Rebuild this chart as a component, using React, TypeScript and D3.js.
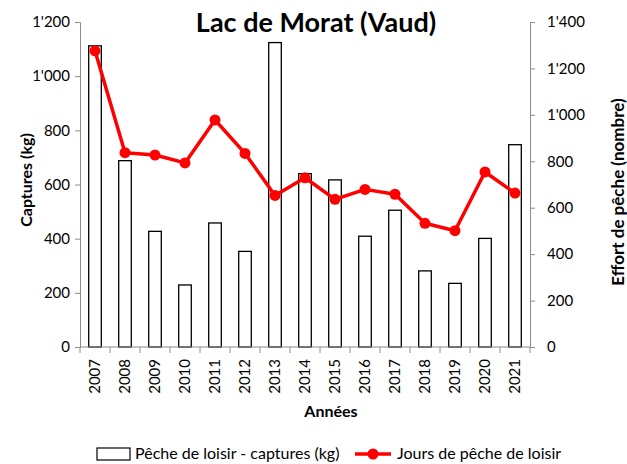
import React, { useRef, useEffect } from "react";
import * as d3 from "d3";

const years = ["2007", "2008", "2009", "2010", "2011", "2012", "2013", "2014", "2015", "2016", "2017", "2018", "2019", "2020", "2021"];
const captures = [1112, 688, 427, 229, 458, 353, 1124, 640, 617, 409, 505, 281, 235, 401, 747];
const jours = [1276, 837, 827, 793, 978, 834, 653, 729, 636, 679, 658, 533, 501, 754, 663];
const leftTicks = [0, 200, 400, 600, 800, 1000, 1200];
const rightTicks = [0, 200, 400, 600, 800, 1000, 1200, 1400];

const FONT = "Lato, 'Open Sans', sans-serif";
const fmt = (v: number) => (v >= 1000 ? Math.floor(v / 1000) + "'" + d3.format("03d")(v % 1000) : String(v));

const App = () => {
  const svgRef = useRef<SVGSVGElement>(null);

  useEffect(() => {
    const svg = d3.select(svgRef.current);
    svg.selectAll("*").remove();

    const left = 80, right = 530, top = 22, bottom = 347;

    const x = d3.scaleBand().domain(years).range([left, right]).paddingInner(0.58).paddingOuter(0.29);
    const band = d3.scaleBand().domain(years).range([left, right]);
    const yL = d3.scaleLinear().domain([0, 1200]).range([bottom, top]);
    const yR = d3.scaleLinear().domain([0, 1400]).range([bottom, top]);

    // title
    svg.append("text")
      .attr("x", 316).attr("y", 32)
      .attr("text-anchor", "middle")
      .style("font-family", FONT).style("font-weight", "bold").style("font-size", "27px")
      .text("Lac de Morat (Vaud)");

    // bars
    svg.append("g").selectAll("rect")
      .data(years)
      .join("rect")
      .attr("x", (d) => x(d)!)
      .attr("y", (d, i) => yL(captures[i]))
      .attr("width", x.bandwidth())
      .attr("height", (d, i) => bottom - yL(captures[i]))
      .attr("fill", "white")
      .attr("stroke", "black")
      .attr("stroke-width", 1.3);

    // left axis
    const gL = svg.append("g").attr("transform", `translate(${left},0)`)
      .call(d3.axisLeft(yL).tickValues(leftTicks).tickSize(5).tickSizeOuter(5).tickPadding(5).tickFormat((v) => fmt(+v)));
    gL.selectAll("path,line").attr("stroke", "#8c8c8c");
    gL.selectAll("text").style("font-family", FONT).style("font-size", "15px").attr("fill", "black");

    // right axis
    const gR = svg.append("g").attr("transform", `translate(${right},0)`)
      .call(d3.axisRight(yR).tickValues(rightTicks).tickSize(5).tickSizeOuter(5).tickPadding(12).tickFormat((v) => fmt(+v)));
    gR.selectAll("path,line").attr("stroke", "#8c8c8c");
    gR.selectAll("text").style("font-family", FONT).style("font-size", "15px").attr("fill", "black");

    // bottom axis
    const gB = svg.append("g").attr("transform", `translate(0,${bottom})`);
    gB.append("line").attr("x1", left).attr("x2", right).attr("stroke", "#8c8c8c");
    gB.selectAll("line.tk")
      .data(years.concat(["end"]))
      .join("line")
      .attr("class", "tk")
      .attr("x1", (d, i) => left + i * band.bandwidth())
      .attr("x2", (d, i) => left + i * band.bandwidth())
      .attr("y1", 0).attr("y2", 6)
      .attr("stroke", "#8c8c8c");
    gB.selectAll("text")
      .data(years)
      .join("text")
      .attr("transform", (d) => `translate(${band(d)! + band.bandwidth() / 2 + 5},12) rotate(-90)`)
      .attr("text-anchor", "end")
      .style("font-family", FONT).style("font-size", "15px")
      .text((d) => d);

    // axis titles
    svg.append("text")
      .attr("transform", "translate(32,180) rotate(-90)")
      .attr("text-anchor", "middle")
      .style("font-family", FONT).style("font-weight", "bold").style("font-size", "16px")
      .text("Captures (kg)");
    svg.append("text")
      .attr("transform", "translate(624,192) rotate(-90)")
      .attr("text-anchor", "middle")
      .style("font-family", FONT).style("font-weight", "bold").style("font-size", "17px")
      .text("Effort de pêche (nombre)");
    svg.append("text")
      .attr("x", 331).attr("y", 417)
      .attr("text-anchor", "middle")
      .style("font-family", FONT).style("font-weight", "bold").style("font-size", "16px")
      .text("Années");

    // line
    const cx = (d: string) => band(d)! + band.bandwidth() / 2;
    svg.append("path")
      .datum(years)
      .attr("fill", "none")
      .attr("stroke", "#ff0000")
      .attr("stroke-width", 3.5)
      .attr("stroke-linejoin", "round")
      .attr("d", d3.line<string>().x(cx).y((d, i) => yR(jours[i])));
    svg.append("g").selectAll("circle")
      .data(years)
      .join("circle")
      .attr("cx", cx)
      .attr("cy", (d, i) => yR(jours[i]))
      .attr("r", 5.5)
      .attr("fill", "#ff0000");

    // legend
    const lg = svg.append("g").style("font-family", FONT).style("font-size", "16px");
    lg.append("rect").attr("x", 97).attr("y", 448).attr("width", 33).attr("height", 12)
      .attr("fill", "white").attr("stroke", "black").attr("stroke-width", 1.2);
    lg.append("text").attr("x", 135).attr("y", 459).text("Pêche de loisir - captures (kg)");
    lg.append("line").attr("x1", 355).attr("x2", 391).attr("y1", 454).attr("y2", 454)
      .attr("stroke", "#ff0000").attr("stroke-width", 3.5);
    lg.append("circle").attr("cx", 373).attr("cy", 454).attr("r", 5.5).attr("fill", "#ff0000");
    lg.append("text").attr("x", 397).attr("y", 459).text("Jours de pêche de loisir");
  }, []);

  return <svg ref={svgRef} width={627} height={464} style={{ position: "absolute", left: 0, top: 0, background: "white" }} />;
};

export default App;
